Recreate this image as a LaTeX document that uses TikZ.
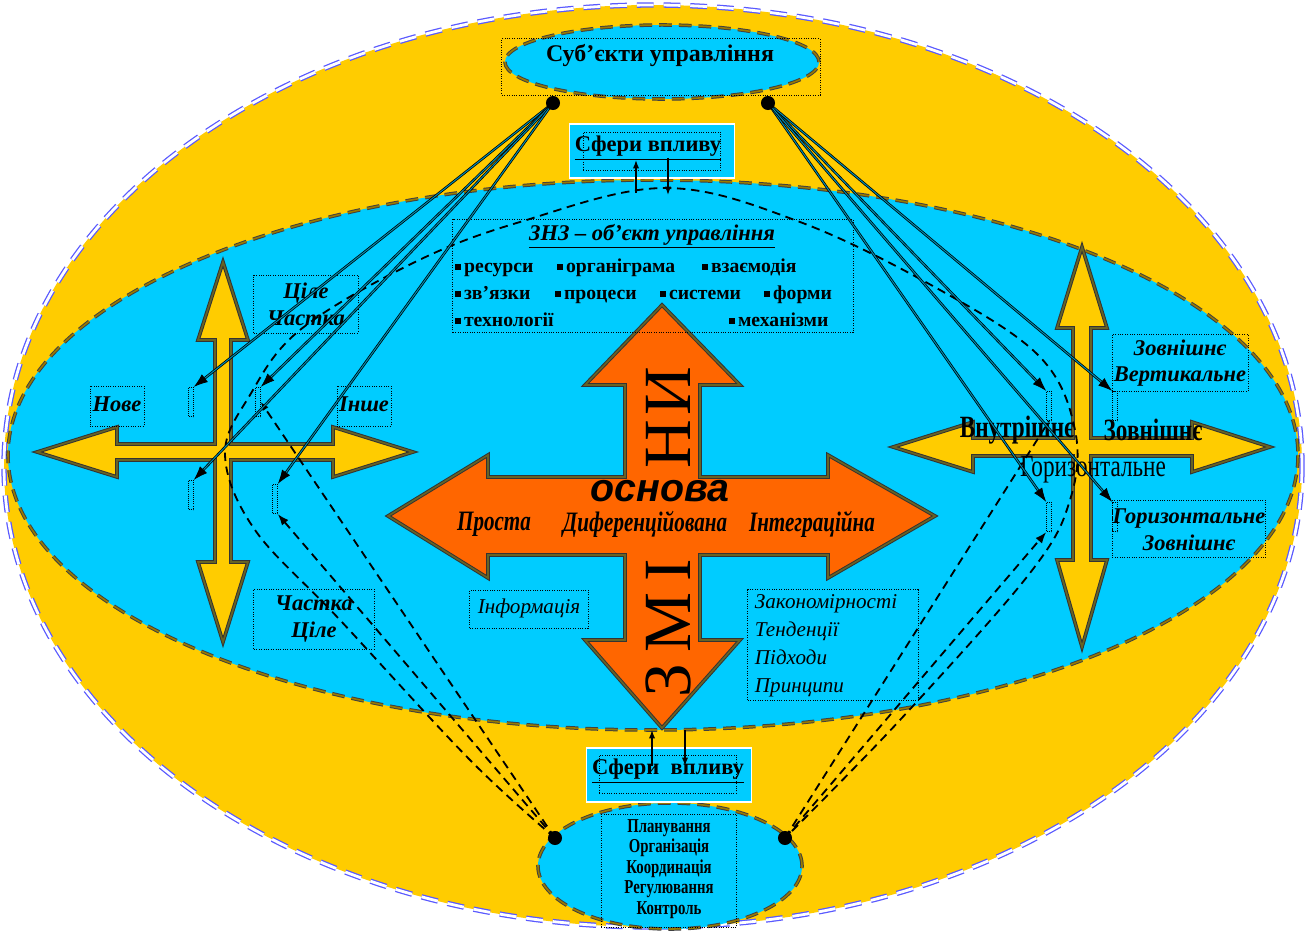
\documentclass[tikz,border=0pt]{standalone}
\usepackage{fontspec}
\setmainfont{Liberation Serif}
\newfontfamily\condfont[FakeStretch=0.75]{Liberation Serif}
\newfontfamily\osnfont{Liberation Sans}
\usetikzlibrary{arrows.meta,shapes.geometric,calc}
\definecolor{zhovtyi}{HTML}{FFCC00}
\definecolor{blakyt}{HTML}{00CCFF}
\definecolor{pomar}{HTML}{FF6600}
\newcommand{\kv}{\rule[0.12em]{0.28em}{0.28em}\,}

\begin{document}
\begin{tikzpicture}[x=0.025cm, y=-0.025cm,
  ramka/.style={draw, densely dotted, line width=0.7pt, inner sep=0pt},
  tonka/.style={draw, densely dotted, line width=0.5pt, minimum width=3.5pt, minimum height=21pt, inner sep=0pt},
  mitka/.style={font=\fontsize{16}{19}\selectfont\bfseries\itshape, align=center},
  kontur/.style={draw=black!75, line width=0.7pt, double=black!40!zhovtyi, double distance=1.1pt, dash pattern=on 9pt off 5pt},
  strilka/.style={-{Latex[length=10pt,width=7pt]}, draw=black, line width=0.55pt, double=black!30!blakyt, double distance=0.7pt},
  shtrykh/.style={dash pattern=on 6pt off 4pt, line width=1.3pt},
  khrest/.style={draw=black!80, line width=0.7pt, double=black!35!olive, double distance=1.2pt},
  sfera/.style={fill=blakyt, draw=white, line width=1.2pt, minimum width=4.125cm, minimum height=1.35cm}]

\useasboundingbox (0,0) rectangle (1307,932);

% tlo
\draw[fill=zhovtyi, draw=blue!65, line width=0.9pt, double=white, double distance=2pt, dash pattern=on 12pt off 7pt]
  (653,466) ellipse[x radius=649, y radius=461];
\draw[fill=blakyt, kontur] (653,455) ellipse[x radius=645, y radius=275];

\node[ellipse, fill=blakyt, kontur, minimum width=7.85cm, minimum height=1.85cm] (subj) at (662,62) {};
\node[ellipse, fill=blakyt, kontur, minimum width=6.6cm, minimum height=3.15cm] (funk) at (670,866) {};

% khresty
\filldraw[fill=pomar, khrest] (662,305) -- (740,385) -- (700,385) -- (700,477) -- (828,477) -- (828,455)
  -- (935,516) -- (828,578) -- (828,555) -- (700,555) -- (700,640) -- (740,640) -- (662,728)
  -- (585,640) -- (625,640) -- (625,555) -- (488,555) -- (488,578) -- (388,516) -- (488,455)
  -- (488,477) -- (625,477) -- (625,385) -- (585,385) -- cycle;
\filldraw[fill=zhovtyi, khrest] (223,262) -- (248,340) -- (231,340) -- (231,444) -- (333,444) -- (333,427)
  -- (413,452) -- (333,477) -- (333,460) -- (231,460) -- (231,562) -- (248,562) -- (223,642)
  -- (198,562) -- (215,562) -- (215,460) -- (117,460) -- (117,477) -- (37,452) -- (117,427)
  -- (117,444) -- (215,444) -- (215,340) -- (198,340) -- cycle;
\filldraw[fill=zhovtyi, khrest] (1082,247) -- (1107,328) -- (1091,328) -- (1091,438) -- (1192,438) -- (1192,422)
  -- (1270,447) -- (1192,472) -- (1192,456) -- (1091,456) -- (1091,560) -- (1107,560) -- (1082,647)
  -- (1057,560) -- (1073,560) -- (1073,456) -- (973,456) -- (973,472) -- (893,447) -- (973,422)
  -- (973,438) -- (1073,438) -- (1073,328) -- (1057,328) -- cycle;

% ramky
\node[ramka, minimum width=7.95cm, minimum height=1.4cm] (subjr) at (661,67) {};
\node[font=\fontsize{17}{20}\selectfont\bfseries] at (660,56) {Суб’єкти управління};

\node[sfera] (sf1) at (652,151) {};
\node[ramka, minimum width=3.425cm, minimum height=0.95cm] at (652,151) {};
\node[font=\fontsize{16}{19}\selectfont\bfseries] at (648,148) {\underline{Сфери впливу}};

\node[sfera] (sf2) at (669,775) {};
\node[ramka, minimum width=3.425cm, minimum height=0.95cm] at (668,774) {};
\node[font=\fontsize{16}{19}\selectfont\bfseries] at (668,771) {\underline{Сфери\ \ впливу}};

\node[ramka, minimum width=3.375cm, minimum height=2.825cm] (funkr) at (669,871) {};
\node[font=\condfont\fontsize{14}{14.5}\selectfont\bfseries, align=center] at (669,869)
  {Планування\\Організація\\Координація\\Регулювання\\Контроль};

% ZNZ
\node[ramka, minimum width=10cm, minimum height=2.825cm] (znz) at (653,276) {};
\node[font=\fontsize{16}{19}\selectfont\bfseries\itshape] at (652,236) {\underline{ЗНЗ – об’єкт управління}};
\begin{scope}[every node/.style={anchor=base west, inner sep=0pt, font=\fontsize{14}{16}\selectfont\bfseries}]
\node at (455,272) {\kv ресурси};
\node at (557,272) {\kv органіграма};
\node at (702,272) {\kv взаємодія};
\node at (455,299) {\kv зв’язки};
\node at (555,299) {\kv процеси};
\node at (660,299) {\kv системи};
\node at (764,299) {\kv форми};
\node at (455,326) {\kv технології};
\node at (729,326) {\kv механізми};
\end{scope}

% zminy
\node[rotate=90, font=\fontsize{48}{48}\selectfont] at (668,418) {Н\hspace{3pt}И};
\node[rotate=90, font=\fontsize{48}{48}\selectfont] at (668,628) {З\hspace{8pt}М\hspace{8pt}І};
\node[font=\osnfont\fontsize{28}{30}\selectfont\bfseries\itshape] at (660,491) {основа};
\node[font=\condfont\fontsize{20}{22}\selectfont\bfseries\itshape] at (494,524) {Проста};
\node[font=\condfont\fontsize{20}{22}\selectfont\bfseries\itshape] at (645,524) {Диференційована};
\node[font=\condfont\fontsize{20}{22}\selectfont\bfseries\itshape] at (812,524) {Інтеграційна};

\node[ramka, minimum width=2.95cm, minimum height=0.95cm] at (529,609) {};
\node[font=\fontsize{15}{20}\selectfont\itshape] at (529,608) {Інформація};
\node[ramka, minimum width=4.25cm, minimum height=2.75cm] at (833,645) {};
\node[font=\fontsize{15}{20}\selectfont\itshape, align=left, anchor=west] at (750,646)
  {Закономірності\\Тенденції\\Підходи\\Принципи};

% livyi khrest
\node[ramka, minimum width=2.6cm, minimum height=1.45cm] at (306,304) {};
\node[mitka] at (306,304) {Ціле\\Частка};
\node[ramka, minimum width=1.35cm, minimum height=1cm] at (117,406) {};
\node[mitka] at (117,404) {Нове};
\node[ramka, minimum width=1.35cm, minimum height=1cm] at (364,406) {};
\node[mitka] at (364,404) {Інше};
\node[ramka, minimum width=3cm, minimum height=1.5cm] at (314,619) {};
\node[mitka] at (314,619) {Частка\\Ціле};
\node[tonka] (l1) at (191,402) {};
\node[tonka] (l2) at (258,402) {};
\node[tonka] (l3) at (191,495) {};
\node[tonka] (l4) at (275,499) {};

% pravyi khrest
\node[ramka, minimum width=3.4cm, minimum height=1.43cm] at (1180,363) {};
\node[mitka] at (1180,363) {Зовнішнє\\Вертикальне};
\node[ramka, minimum width=3.83cm, minimum height=1.43cm] at (1189,529) {};
\node[mitka] at (1189,530) {Горизонтальне\\Зовнішнє};
\node[font=\condfont\fontsize{22}{24}\selectfont\bfseries] at (1017,430) {Внутрішнє};
\node[font=\condfont\fontsize{22}{24}\selectfont\bfseries] at (1153,430) {Зовнішнє};
\node[font=\condfont\fontsize{22}{24}\selectfont] at (1093,470) {Горизонтальне};
\node[tonka] (r1) at (1049,406) {};
\node[tonka] (r2) at (1115,406) {};
\node[tonka] (r3) at (1049,517) {};
\node[tonka] (r4) at (1115,517) {};

% tochky
\path (553,103) coordinate (tl);
\path (768,103) coordinate (tr);
\path (555,838) coordinate (bl);
\path (785,838) coordinate (br);

% vplyv
\draw[shtrykh] plot[smooth, tension=0.6] coordinates {(bl) (470,760) (340,620) (255,530) (225,455) (250,395)
  (300,330) (413,263) (520,222) (665,188) (800,222) (940,290) (1040,357) (1075,430) (1070,500) (1030,573) (900,720) (br)};
\draw[shtrykh, -{Latex[length=8pt,width=6pt]}] (bl) -- (l4.south east);
\draw[shtrykh, -{Latex[length=6pt,width=5pt]}] (bl) -- (l2.east);
\draw[shtrykh, -{Latex[length=8pt,width=6pt]}] (br) -- (r3.south west);
\draw[shtrykh] (br) -- (r1.south);

\foreach \t in {l1,l2,l3,l4}
  \draw[strilka] (tl) -- (\t.north east);
\foreach \t in {r1,r2,r3,r4}
  \draw[strilka] (tr) -- (\t.north west);

\foreach \p in {tl,tr,bl,br}
  \fill[black] (\p) circle[radius=5pt];

% strilky sfer
\path (636,193) coordinate (s1a) (636,160) coordinate (s1b);
\path (668,158) coordinate (s2a) (668,195) coordinate (s2b);
\path (652,766) coordinate (s3a) (652,730) coordinate (s3b);
\path (685,730) coordinate (s4a) (685,766) coordinate (s4b);
\draw[line width=0.9pt, -{Latex[length=6pt,width=4.5pt]}] (s1a) -- (s1b);
\draw[line width=0.9pt, -{Latex[length=6pt,width=4.5pt]}] (s2a) -- (s2b);
\draw[line width=0.9pt, -{Latex[length=6pt,width=4.5pt]}] (s3a) -- (s3b);
\draw[line width=0.9pt, -{Latex[length=6pt,width=4.5pt]}] (s4a) -- (s4b);

\end{tikzpicture}
\end{document}
